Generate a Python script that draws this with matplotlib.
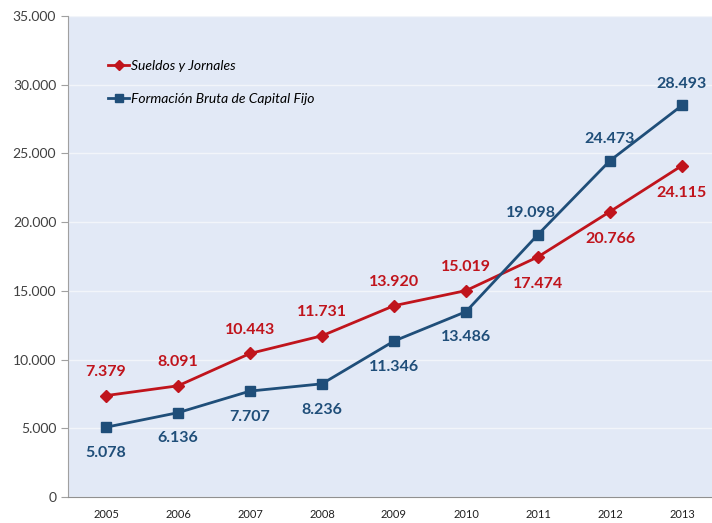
import matplotlib
matplotlib.use("Agg")
import matplotlib.pyplot as plt
from matplotlib.ticker import FuncFormatter

plt.rcParams["font.family"] = ["Lato", "DejaVu Sans"]

years = ["2005", "2006", "2007", "2008", "2009", "2010", "2011", "2012", "2013"]
sueldos = [7379, 8091, 10443, 11731, 13920, 15019, 17474, 20766, 24115]
fbkf = [5078, 6136, 7707, 8236, 11346, 13486, 19098, 24473, 28493]
sueldos_pos = ["above"] * 6 + ["below"] * 3
fbkf_pos = ["below"] * 6 + ["above"] * 3

RED = "#C0141C"
BLUE = "#1F4E79"

W, H = 712, 523
fig = plt.figure(figsize=(W / 100, H / 100), dpi=100)
ax = fig.add_axes([68 / W, 1 - 497 / H, (712 - 68) / W, (497 - 16) / H])
ax.set_facecolor("#E2E9F6")

x = list(range(len(years)))
ax.plot(x, sueldos, color=RED, lw=2.0, marker="D", ms=6.5, mfc=RED, mec=RED,
        label="Sueldos y Jornales", zorder=3)
ax.plot(x, fbkf, color=BLUE, lw=2.0, marker="s", ms=7.5, mfc=BLUE, mec=BLUE,
        label="Formación Bruta de Capital Fijo", zorder=3)

def fmt(v):
    return f"{v:,}".replace(",", ".")

for i, (v, p) in enumerate(zip(sueldos, sueldos_pos)):
    off = 17 if p == "above" else -19.5
    ax.annotate(fmt(v), (i, v), xytext=(0, off), textcoords="offset points",
                ha="center", va="center", color=RED, fontsize=11.5, fontweight="bold")
for i, (v, p) in enumerate(zip(fbkf, fbkf_pos)):
    off = 15.5 if p == "above" else -18.5
    dx = -5 if i == 6 else 0
    ax.annotate(fmt(v), (i, v), xytext=(dx, off), textcoords="offset points",
                ha="center", va="center", color=BLUE, fontsize=11.5, fontweight="bold")

ax.set_xlim(-0.528, 8.417)
ax.set_ylim(0, 35000)
ax.set_yticks(range(0, 35001, 5000))
ax.yaxis.set_major_formatter(FuncFormatter(lambda v, p: fmt(int(v))))
ax.set_xticks(x)
ax.set_xticklabels(years)
ax.tick_params(axis="y", labelsize=10, colors="#404040", length=5, color="#A0A0A0")
ax.tick_params(axis="x", labelsize=8, colors="#202020", length=0, pad=9)
ax.grid(axis="y", color="#F2F5FA", lw=1)
ax.set_axisbelow(True)
for s in ["top", "right"]:
    ax.spines[s].set_visible(False)
ax.spines["left"].set_color("#A0A0A0")
ax.spines["bottom"].set_color("#909090")

leg = ax.legend(loc="upper left", bbox_to_anchor=(0.043, 0.935), frameon=False,
                prop={"style": "italic", "size": 10}, handlelength=1.5,
                handletextpad=0.15, labelspacing=1.5, markerscale=0.8)

fig.savefig("out.png", dpi=100)
